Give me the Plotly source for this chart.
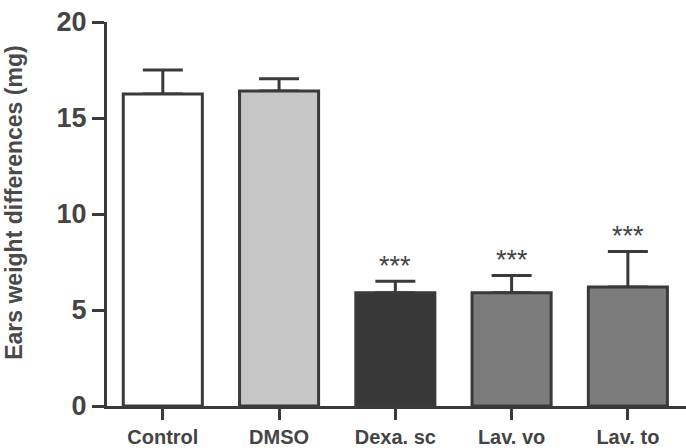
import plotly.graph_objects as go

# Ear oedema: weight difference between treated and untreated ears
groups = ["Control", "DMSO", "Dexa. sc", "Lav. vo", "Lav. to"]
means = [16.25, 16.4, 5.9, 5.9, 6.2]
sem = [1.25, 0.65, 0.6, 0.9, 1.85]
fills = ["#ffffff", "#c6c6c6", "#383838", "#7c7c7c", "#7c7c7c"]
significance = ["", "", "***", "***", "***"]
y_ticks = [0, 5, 10, 15, 20]

ink = "#3a3a3a"
font_family = "Liberation Sans, Arial, sans-serif"
bar_width = 0.68

fig = go.Figure()
# upper-only SEM whiskers, drawn first so the bars cover the lower cap
fig.add_trace(go.Bar(
    x=groups,
    y=means,
    width=bar_width,
    marker=dict(color="rgba(0,0,0,0)", line=dict(width=0)),
    error_y=dict(
        type="data",
        symmetric=False,
        array=sem,
        arrayminus=[0] * len(sem),
        color=ink,
        thickness=3,
        width=20,
    ),
    showlegend=False,
    hoverinfo="skip",
))
fig.add_trace(go.Bar(
    x=groups,
    y=means,
    width=bar_width,
    marker=dict(color=fills, line=dict(color=ink, width=3)),
    showlegend=False,
))

# significance stars above the error bars
for g, m, e, s in zip(groups, means, sem, significance):
    if s:
        fig.add_annotation(
            x=g, y=m + e, text=s, showarrow=False,
            yanchor="bottom", yshift=-2,
            font=dict(family=font_family, size=27, color="#444444"),
        )

# y-axis title
fig.add_annotation(
    xref="paper", yref="paper", x=-0.186, y=0.53,
    text="Ears weight differences (mg)", textangle=-90, showarrow=False,
    font=dict(family=font_family, size=23, color="#4a4a4a", weight="bold"),
)

fig.update_layout(
    width=686, height=448,
    margin=dict(l=107, r=0, t=22, b=37),
    paper_bgcolor="#ffffff", plot_bgcolor="#ffffff",
    barmode="overlay",
    xaxis=dict(
        range=[-0.48, 4.5],
        showline=True, linecolor=ink, linewidth=3,
        ticks="outside", ticklen=11, tickwidth=3, tickcolor=ink,
        tickfont=dict(family=font_family, size=20, color="#444444", weight="bold"),
        showgrid=False, zeroline=False,
    ),
    yaxis=dict(
        range=[0, 20],
        tickvals=y_ticks,
        showline=True, linecolor=ink, linewidth=3,
        ticks="outside", ticklen=12, tickwidth=3, tickcolor=ink,
        tickfont=dict(family=font_family, size=27, color="#444444", weight="bold"),
        showgrid=False, zeroline=False,
    ),
)

fig.write_html("out.html")
